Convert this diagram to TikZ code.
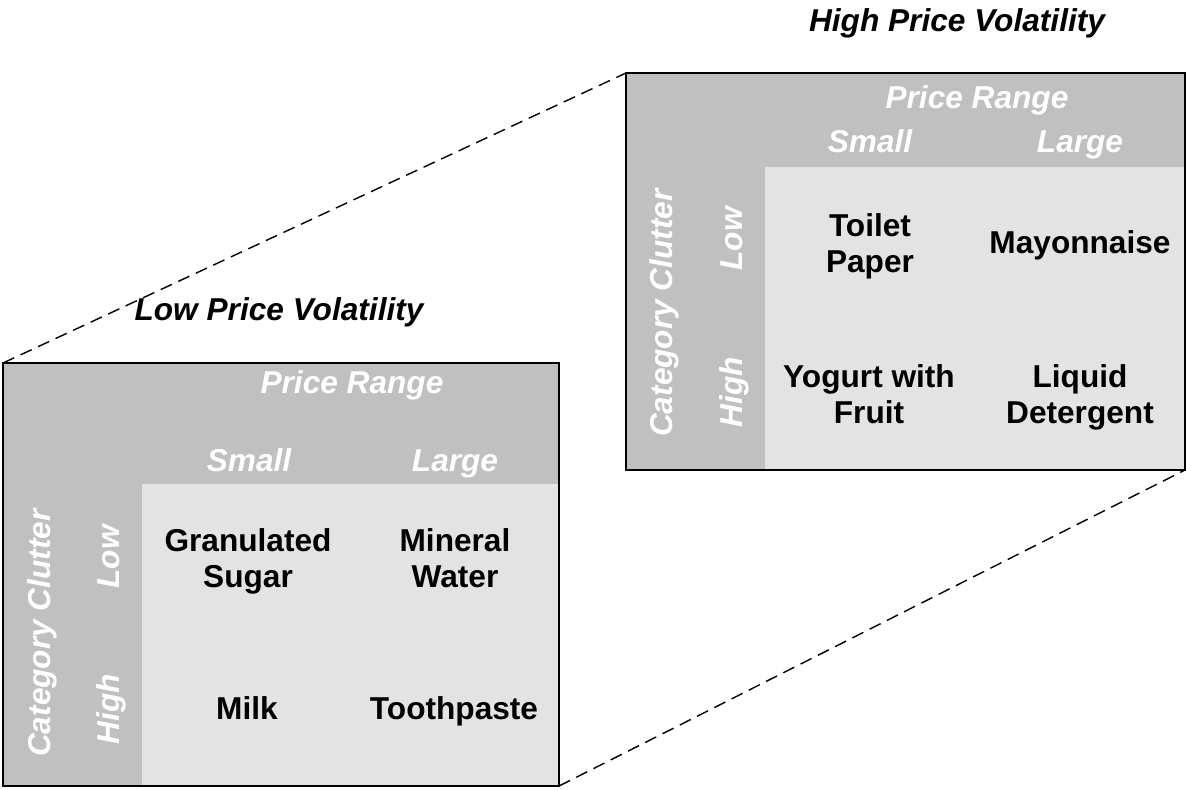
\documentclass[tikz,border=0pt]{standalone}
\usepackage{fontspec}
\setmainfont{Liberation Sans}
\usepackage{tikz}
\usetikzlibrary{positioning}
\definecolor{hGray}{HTML}{C0C0C0}
\definecolor{cGray}{HTML}{E3E3E3}
\tikzset{
  mframe/.style={draw=black, line width=1pt},
  mbox/.style={fill=hGray, inner sep=0pt, outer sep=0pt, anchor=north west},
  mcells/.style={fill=cGray, inner sep=0pt, outer sep=0pt, anchor=south east},
  zoomline/.style={draw=black, line width=0.8pt, dash pattern=on 7pt off 4pt},
}
\tikzset{
  hdr/.style={font=\fontsize{18}{20}\selectfont\bfseries\itshape, text=white,
    inner sep=0pt, anchor=base},
  vhdr/.style={hdr, rotate=90},
  cellitem/.style={font=\fontsize{18}{20}\selectfont\bfseries, align=center,
    inner sep=0pt, anchor=base},
  voltitle/.style={font=\fontsize{18}{20}\selectfont\bfseries\itshape,
    inner sep=0pt, anchor=base},
}
\begin{document}
\begin{tikzpicture}
  \useasboundingbox (0,0) rectangle (23.72,-15.78);
  \node[mbox, minimum width=11.12cm, minimum height=8.46cm] (lowbox) at (0.06,-7.26) {};
  \node[mbox, minimum width=11.18cm, minimum height=7.94cm] (highbox) at (12.52,-1.46) {};
  \node[mcells, minimum width=8.34cm, minimum height=6.04cm] (lowcells) at (lowbox.south east) {};
  \node[mcells, minimum width=8.40cm, minimum height=6.06cm] (highcells) at (highbox.south east) {};
  \draw[mframe] (lowbox.north west) rectangle (lowbox.south east);
  \draw[mframe] (highbox.north west) rectangle (highbox.south east);
  \draw[zoomline] (lowbox.north west) -- (highbox.north west);
  \draw[zoomline] (lowbox.south east) -- (highbox.south east);

  \node[voltitle] (lowtitle) at (5.58,-6.40) {Low Price Volatility};
  \node[hdr] (lowrange) at (7.04,-7.86) {Price Range};
  \node[hdr] (lowsmall) at (4.98,-9.42) {Small};
  \node[hdr] (lowlarge) at (9.10,-9.42) {Large};
  \node[vhdr] (lowclutter) at (1.00,-12.66) {Category Clutter};
  \node[vhdr] (lowlow) at (2.38,-11.14) {Low};
  \node[vhdr] (lowhigh) at (2.38,-14.18) {High};
  \node[cellitem] (sugar) at (4.96,-11.74) {Granulated\\Sugar};
  \node[cellitem] (water) at (9.10,-11.74) {Mineral\\Water};
  \node[cellitem] (milk) at (4.94,-14.38) {Milk};
  \node[cellitem] (paste) at (9.08,-14.38) {Toothpaste};

  \node[voltitle] (hightitle) at (19.14,-0.62) {High Price Volatility};
  \node[hdr] (highrange) at (19.54,-2.16) {Price Range};
  \node[hdr] (highsmall) at (17.40,-3.04) {Small};
  \node[hdr] (highlarge) at (21.60,-3.04) {Large};
  \node[vhdr] (highclutter) at (13.44,-6.26) {Category Clutter};
  \node[vhdr] (highlow) at (14.84,-4.78) {Low};
  \node[vhdr] (highhigh) at (14.84,-7.84) {High};
  \node[cellitem] (paper) at (17.40,-5.44) {Toilet\\Paper};
  \node[cellitem] (mayo) at (21.60,-5.06) {Mayonnaise};
  \node[cellitem] (yogurt) at (17.38,-8.46) {Yogurt with\\Fruit};
  \node[cellitem] (detergent) at (21.60,-8.46) {Liquid\\Detergent};
\end{tikzpicture}
\end{document}
